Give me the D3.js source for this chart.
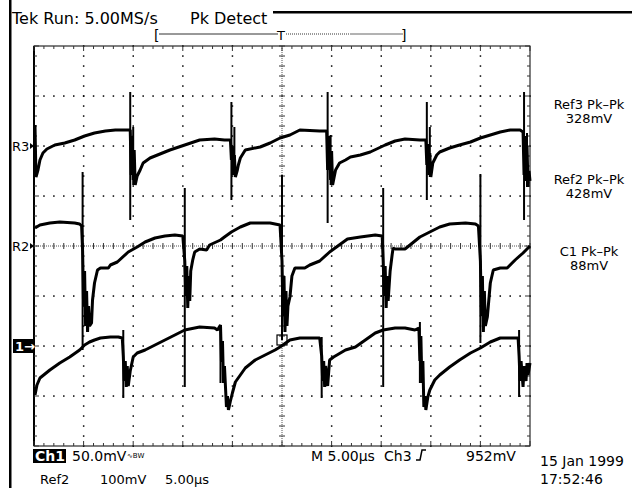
<!DOCTYPE html>
<head>
  <meta charset="UTF-8">
  <title>tek</title>
  <style>
  body{
    margin: 0;
    background: #fff;
  }
  text{
    font-family: "DejaVu Sans", sans-serif;
    fill: #000;
  }
  </style>
</head>
<body>
  <script src="https://cdn.jsdelivr.net/npm/d3@7/dist/d3.min.js"></script>
  <script type="text/javascript">
  // time in us (5us/div), level in divisions from screen centre
  var timeDomain = [0, 50];
  var divDomain = [-4, 4];
  var majorTimes = [0, 5, 10, 15, 20, 25, 30, 35, 40, 45, 50];
  var majorDivs = [-4, -3, -2, -1, 0, 1, 2, 3, 4];

  var ref3 = [
    [0.1,2.42],[0.2,1.38],[0.4,1.52],[0.6,1.72],[0.9,1.86],[1.3,1.94],[2.1,2.02],[3.1,2.06],[4.1,2.12],[5.1,2.20],[6.1,2.26],[7.2,2.30],[8.2,2.32],[9.5,2.32],
    [9.7,2.32],[9.8,1.42],[9.9,2.20],[10.0,1.32],[10.1,1.92],[10.2,1.22],[10.4,1.40],[10.7,1.52],[11.0,1.66],[11.7,1.76],[12.7,1.84],[13.7,1.92],[15.2,2.02],[16.7,2.12],[18.2,2.14],[19.2,2.12],[19.8,2.12],
    [19.9,1.72],[20.0,2.00],[20.1,1.42],[20.2,1.82],[20.3,1.38],[20.5,1.52],[20.6,1.62],[20.8,1.76],[21.3,1.92],[22.8,1.98],[23.8,2.06],[24.8,2.16],[25.8,2.22],[26.8,2.32],[28.8,2.30],[29.5,2.30],
    [29.6,1.52],[29.7,2.20],[29.9,1.32],[30.0,1.90],[30.1,1.22],[30.4,1.52],[30.8,1.66],[31.4,1.72],[31.9,1.78],[32.9,1.82],[33.9,1.88],[35.4,2.02],[36.4,2.10],[37.4,2.14],[38.9,2.12],[39.5,2.12],
    [39.6,1.62],[39.7,2.04],[39.8,1.42],[39.9,1.86],[40.0,1.38],[40.2,1.66],[40.6,1.82],[40.9,1.88],[41.9,1.96],[42.9,2.02],[44.0,2.08],[45.0,2.16],[46.0,2.22],[47.0,2.28],[48.0,2.32],[49.0,2.32],[49.3,2.28],
    [49.4,1.42],[49.5,2.20],[49.6,1.30],[49.7,2.00],[49.8,1.18],[49.9,1.50],[50.0,1.30]
  ];
  var ref2 = [
    [0.1,0.36],[0.6,0.42],[1.6,0.46],[2.6,0.48],[4.1,0.46],[4.6,0.44],[4.8,0.40],
    [4.9,-0.10],[5.0,-1.20],[5.1,-0.50],[5.2,-1.60],[5.3,-0.90],[5.4,-1.72],[5.5,-1.20],[5.6,-1.60],[5.8,-1.54],[5.9,-1.08],[6.1,-0.74],[6.4,-0.48],[6.7,-0.44],[7.5,-0.44],[7.7,-0.38],[8.4,-0.32],[9.5,-0.12],[10.4,-0.02],[11.2,0.08],[12.2,0.16],[13.2,0.20],[14.2,0.22],[15.0,0.20],
    [15.2,-0.30],[15.3,-1.00],[15.4,-0.40],[15.5,-1.24],[15.6,-0.60],[15.7,-1.10],[15.8,-0.50],[16.0,-0.28],[16.2,-0.12],[16.7,-0.06],[17.4,-0.08],[17.7,0.02],[18.8,0.12],[19.2,0.18],[19.9,0.28],[20.8,0.38],[21.8,0.46],[23.8,0.46],[24.8,0.42],
    [25.0,-0.30],[25.1,-1.40],[25.2,-0.60],[25.3,-1.72],[25.4,-0.90],[25.5,-1.60],[25.6,-1.20],[25.8,-1.02],[26.0,-0.60],[26.3,-0.44],[27.3,-0.44],[27.8,-0.38],[28.8,-0.30],[29.8,-0.12],[31.6,0.14],[32.9,0.18],[34.4,0.22],[35.1,0.20],
    [35.2,-0.30],[35.3,-1.00],[35.4,-0.40],[35.5,-1.24],[35.6,-0.60],[35.7,-1.10],[35.9,-0.50],[36.1,-0.18],[36.2,-0.04],[36.4,-0.06],[37.4,-0.06],[37.9,0.02],[38.9,0.18],[39.7,0.26],[40.9,0.38],[41.9,0.44],[43.5,0.46],[44.5,0.44],[44.8,0.40],
    [45.0,-0.30],[45.1,-1.40],[45.2,-0.60],[45.3,-1.72],[45.4,-0.90],[45.5,-1.60],[45.7,-1.42],[46.0,-0.74],[46.3,-0.48],[47.0,-0.44],[47.7,-0.44],[48.5,-0.28],[49.3,-0.14],[50.0,0.00]
  ];
  var ch1 = [
    [0.1,-2.98],[0.3,-2.78],[0.6,-2.64],[1.1,-2.56],[1.6,-2.48],[2.6,-2.34],[3.6,-2.22],[4.6,-2.08],[5.1,-1.98],[5.6,-1.92],[6.1,-1.88],[6.7,-1.84],[7.7,-1.82],[8.5,-1.82],[8.9,-1.84],
    [9.0,-2.20],[9.1,-2.70],[9.2,-2.30],[9.3,-2.82],[9.4,-2.40],[9.5,-2.80],[9.7,-2.50],[10.0,-2.22],[10.4,-2.14],[11.2,-2.08],[12.2,-1.98],[13.2,-1.88],[14.2,-1.78],[15.2,-1.68],[16.7,-1.62],[18.2,-1.64],[18.5,-1.68],
    [18.8,-1.58],[18.9,-2.32],[19.0,-1.90],[19.1,-2.74],[19.2,-2.40],[19.4,-3.22],[19.5,-3.00],[19.6,-3.28],[19.8,-3.10],[20.0,-2.94],[20.3,-2.72],[20.8,-2.58],[21.3,-2.44],[22.3,-2.28],[23.3,-2.18],[24.3,-2.08],[24.8,-2.02],[25.8,-1.88],[26.8,-1.84],[28.8,-1.84],
    [29.0,-2.20],[29.1,-2.70],[29.2,-2.30],[29.3,-2.82],[29.4,-2.40],[29.6,-2.80],[29.8,-2.28],[30.2,-2.22],[31.4,-2.08],[32.4,-2.02],[33.4,-1.88],[34.4,-1.74],[35.2,-1.68],[36.4,-1.64],[37.4,-1.64],[38.4,-1.68],[38.8,-1.64],
    [38.9,-2.30],[39.0,-1.80],[39.1,-2.74],[39.2,-2.30],[39.3,-3.22],[39.4,-3.00],[39.5,-3.28],[39.7,-3.02],[39.9,-2.88],[40.4,-2.68],[40.9,-2.58],[41.9,-2.42],[42.9,-2.28],[44.0,-2.14],[45.0,-2.04],[46.0,-1.92],[47.0,-1.84],[48.5,-1.84],[48.8,-1.84],
    [48.9,-2.20],[49.0,-2.70],[49.1,-2.30],[49.3,-2.82],[49.4,-2.40],[49.6,-2.70],[49.7,-2.34],[49.8,-2.58],[50.0,-2.34]
  ];

  // glitches: [time, top, bottom]
  var ref3Spikes = [[0.0,2.88,1.38],[9.7,3.08,0.52],[10.0,2.38,1.22],[19.9,2.88,0.92],[20.2,2.38,1.42],[29.6,3.08,0.46],[29.9,2.22,1.22],[39.6,2.88,0.92],[39.9,2.38,1.38],[49.4,3.08,0.52],[49.7,2.26,1.18]];
  var ref2Spikes = [[4.9,1.48,-2.08],[15.2,1.16,-2.82],[25.0,1.42,-1.88],[35.2,1.16,-2.82],[45.0,1.44,-1.94]];
  var ch1Spikes = [[9.0,-1.68,-3.04],[29.0,-1.82,-3.04],[48.9,-1.68,-3.02],[18.8,-1.58,-2.74],[38.9,-1.52,-2.74]];

  var refLabels = ['R3', 'R2', '1\u2192'];
  var refLevels = [2, 0, -2];
  var readNames = ['Ref3 Pk\u2013Pk', 'Ref2 Pk\u2013Pk', 'C1 Pk\u2013Pk'];
  var readValues = ['328mV', '428mV', '88mV'];
  var triggerTime = 25;
  var triggerLevel = -1.9;

  var width = 632, height = 488;

  var svg = d3.select('body').append('svg')
  .attr('width', width)
  .attr('height', height);

  var x = d3.scaleLinear().domain(timeDomain).range([34, 530]);
  var y = d3.scaleLinear().domain(divDomain).range([446, 46]);

  var minorTimes = d3.range(0, 50.01, 1);
  var minorDivs = d3.range(-4, 4.01, 0.2);

  //frame lines
  svg.append('rect').attr('x', 9).attr('y', 0).attr('width', 2.5).attr('height', height).attr('fill', '#000');
  svg.append('rect').attr('x', 273).attr('y', 11).attr('width', width - 273).attr('height', 2.5).attr('fill', '#000');

  //graticule
  var g = svg.append('g');
  g.append('rect')
  .attr('x', x(0)).attr('y', y(4))
  .attr('width', x(50) - x(0)).attr('height', y(-4) - y(4))
  .attr('fill', 'none').attr('stroke', '#000').attr('stroke-width', 1);
  g.append('line').attr('x1', x(0)).attr('x2', x(0)).attr('y1', y(4)).attr('y2', y(-4))
  .attr('stroke', '#000').attr('stroke-width', 2);

  majorTimes.filter(function(t){ return t > 0 && t < 50 && t != 25; }).forEach(function(t){
    g.selectAll(null).data(minorDivs).enter().append('rect')
    .attr('x', x(t) - 0.7).attr('y', function(d){ return y(d) - 0.7; })
    .attr('width', 1.5).attr('height', 1.5).attr('fill', '#000');
  });
  majorDivs.filter(function(v){ return v > -4 && v < 4 && v != 0; }).forEach(function(v){
    g.selectAll(null).data(minorTimes).enter().append('rect')
    .attr('x', function(d){ return x(d) - 0.7; }).attr('y', y(v) - 0.7)
    .attr('width', 1.5).attr('height', 1.5).attr('fill', '#000');
  });

  //centre axes
  g.append('line').attr('x1', x(25)).attr('x2', x(25)).attr('y1', y(4)).attr('y2', y(-4))
  .attr('stroke', '#555').attr('stroke-width', 1).attr('stroke-dasharray', '1,1');
  g.append('line').attr('x1', x(0)).attr('x2', x(50)).attr('y1', y(0)).attr('y2', y(0))
  .attr('stroke', '#555').attr('stroke-width', 1).attr('stroke-dasharray', '1,1');
  g.selectAll('.cty').data(minorDivs).enter().append('line')
  .attr('x1', x(25) - 3).attr('x2', x(25) + 3)
  .attr('y1', function(d){ return y(d); }).attr('y2', function(d){ return y(d); })
  .attr('stroke', '#333').attr('stroke-width', 1);
  g.selectAll('.ctx').data(minorTimes).enter().append('line')
  .attr('y1', y(0) - 3).attr('y2', y(0) + 3)
  .attr('x1', function(d){ return x(d); }).attr('x2', function(d){ return x(d); })
  .attr('stroke', '#333').attr('stroke-width', 1);

  //edge ticks
  [y(4), y(-4)].forEach(function(edge, i){
    g.selectAll(null).data(minorTimes).enter().append('line')
    .attr('x1', function(d){ return x(d); }).attr('x2', function(d){ return x(d); })
    .attr('y1', edge)
    .attr('y2', function(d){ var len = d % 5 == 0 ? 5 : 3; return i == 0 ? edge + len : edge - len; })
    .attr('stroke', '#333').attr('stroke-width', 1);
  });
  [x(0), x(50)].forEach(function(edge, i){
    g.selectAll(null).data(minorDivs).enter().append('line')
    .attr('y1', function(d){ return y(d); }).attr('y2', function(d){ return y(d); })
    .attr('x1', edge)
    .attr('x2', function(d){ var len = Math.abs(d - Math.round(d)) < 0.01 ? 5 : 3; return i == 0 ? edge + len : edge - len; })
    .attr('stroke', '#333').attr('stroke-width', 1);
  });

  //traces
  var line = d3.line()
  .x(function(d){ return x(d[0]); })
  .y(function(d){ return y(d[1]); });

  [ref3, ref2, ch1].forEach(function(tr){
    svg.append('path')
    .attr('d', line(tr))
    .attr('fill', 'none')
    .attr('stroke', '#000')
    .attr('stroke-width', 3)
    .attr('stroke-linejoin', 'bevel');
  });

  [ref3Spikes, ref2Spikes, ch1Spikes].forEach(function(sp){
    svg.selectAll(null).data(sp).enter().append('line')
    .attr('x1', function(d){ return x(d[0]); }).attr('x2', function(d){ return x(d[0]); })
    .attr('y1', function(d){ return y(d[1]); }).attr('y2', function(d){ return y(d[2]); })
    .attr('stroke', '#000').attr('stroke-width', 2);
  });

  //trigger box
  svg.append('rect')
  .attr('x', x(triggerTime) - 5).attr('y', y(triggerLevel) - 6)
  .attr('width', 10).attr('height', 10)
  .attr('fill', 'none').attr('stroke', '#000').attr('stroke-width', 1.2);

  //reference markers
  refLabels.forEach(function(lab, i){
    var yy = y(refLevels[i]);
    if(i == 2){
      svg.append('rect').attr('x', 13).attr('y', yy - 7).attr('width', 21).attr('height', 14).attr('fill', '#000');
      svg.append('text').attr('x', 15).attr('y', yy + 5).attr('font-size', 13).attr('font-weight', 'bold')
      .style('fill', '#fff').text(lab);
    } else {
      svg.append('text').attr('x', 12).attr('y', yy + 5).attr('font-size', 13).text(lab);
      svg.append('path').attr('d', 'M' + 30 + ',' + (yy - 3) + 'L' + 34 + ',' + yy + 'L' + 30 + ',' + (yy + 3) + 'Z')
      .attr('fill', '#000');
    }
  });

  //readouts
  var readY = [109, 184, 256];
  readNames.forEach(function(n, i){
    svg.append('text').attr('x', 589).attr('y', readY[i]).attr('text-anchor', 'middle')
    .attr('font-size', 13).text(n);
    svg.append('text').attr('x', 589).attr('y', readY[i] + 14).attr('text-anchor', 'middle')
    .attr('font-size', 13).text(readValues[i]);
  });

  //header
  svg.append('text').attr('x', 12).attr('y', 24).attr('font-size', 16).text('Tek Run: 5.00MS/s');
  svg.append('text').attr('x', 190).attr('y', 24).attr('font-size', 16).text('Pk Detect');

  //record bar
  svg.append('text').attr('x', 154).attr('y', 40).attr('font-size', 14).text('[');
  svg.append('text').attr('x', 277).attr('y', 40).attr('font-size', 13).text('T');
  svg.append('text').attr('x', 401).attr('y', 40).attr('font-size', 14).text(']');
  svg.append('line').attr('x1', 159).attr('x2', 278).attr('y1', 34).attr('y2', 34).attr('stroke', '#333').attr('stroke-width', 1);
  svg.append('line').attr('x1', 286).attr('x2', 350).attr('y1', 34).attr('y2', 34).attr('stroke', '#333').attr('stroke-width', 1).attr('stroke-dasharray', '1,1');
  svg.append('line').attr('x1', 350).attr('x2', 403).attr('y1', 34).attr('y2', 34).attr('stroke', '#666').attr('stroke-width', 1);

  //bottom status
  svg.append('rect').attr('x', 33).attr('y', 449).attr('width', 33).attr('height', 14).attr('fill', '#000');
  svg.append('text').attr('x', 35).attr('y', 461).attr('font-size', 14).attr('font-weight', 'bold').style('fill', '#fff').text('Ch1');
  svg.append('text').attr('x', 72).attr('y', 461).attr('font-size', 14).text('50.0mV');
  svg.append('text').attr('x', 127).attr('y', 458).attr('font-size', 7).text('\u223FBW');
  svg.append('text').attr('x', 311).attr('y', 461).attr('font-size', 14).text('M 5.00\u00B5s');
  svg.append('text').attr('x', 384).attr('y', 461).attr('font-size', 14).text('Ch3');
  svg.append('path').attr('d', 'M416,460 L420,460 L422,450 L426,450').attr('fill', 'none').attr('stroke', '#000').attr('stroke-width', 1.5);
  svg.append('text').attr('x', 466).attr('y', 461).attr('font-size', 14).text('952mV');
  svg.append('text').attr('x', 540).attr('y', 466).attr('font-size', 14).text('15 Jan 1999');
  svg.append('text').attr('x', 540).attr('y', 484).attr('font-size', 14).text('17:52:46');
  svg.append('text').attr('x', 40).attr('y', 484).attr('font-size', 13).text('Ref2');
  svg.append('text').attr('x', 100).attr('y', 484).attr('font-size', 13).text('100mV');
  svg.append('text').attr('x', 165).attr('y', 484).attr('font-size', 13).text('5.00\u00B5s');
  </script>
</body>
</html>
